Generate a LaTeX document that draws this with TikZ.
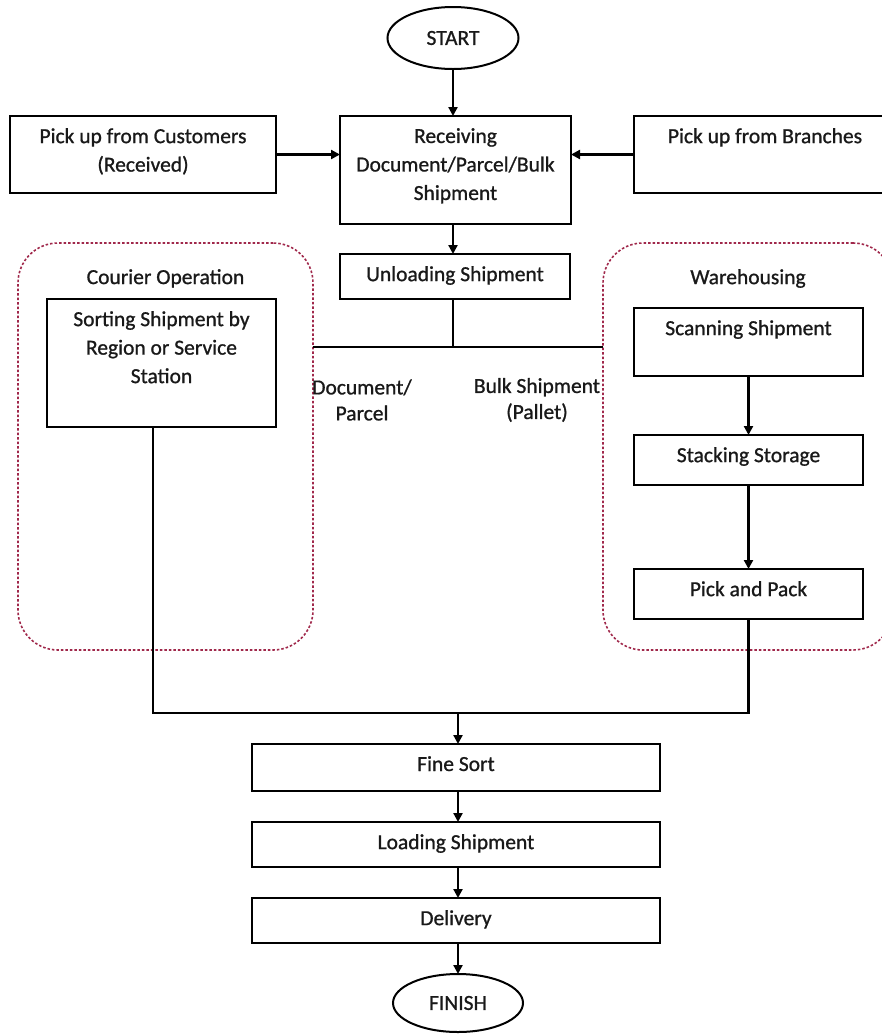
\documentclass[tikz,border=0pt]{standalone}
\usepackage{fontspec}
\setmainfont{Carlito}
\newfontfamily\diagfont{Carlito}[FakeBold=0.9]
\usetikzlibrary{arrows.meta,shapes.geometric}
\definecolor{grpred}{RGB}{160,40,75}
\tikzset{
  txt/.style={font=\diagfont\fontsize{21.5}{28.5}\selectfont, align=center, text=black!90},
  box/.style={draw, line width=2.2pt, inner sep=0pt, outer sep=0pt},
  toptext/.style={txt, anchor=north, inner sep=0pt, yshift=-12pt},
  oval/.style={ellipse, draw, line width=2pt, inner sep=0pt, outer sep=0pt, txt},
  grp/.style={draw=grpred, line width=1.6pt, dash pattern=on 2.5pt off 2pt, rounded corners=40pt, inner sep=0pt, outer sep=0pt},
  grptitle/.style={txt, anchor=north, inner sep=0pt, yshift=-26pt},
  arr/.style={line width=2.2pt, -{Triangle[length=9pt,width=9pt]}},
  conn/.style={line width=2.2pt},
  edgelbl/.style={txt, font=\diagfont\fontsize{21.5}{26}\selectfont},
}
\begin{document}
\begin{tikzpicture}[x=1pt,y=-1pt]
\useasboundingbox (0,0) rectangle (882,1034);
\clip (0,0) rectangle (882,1034);
\fill[white] (0,0) rectangle (882,1034);

% groups
\node[grp, minimum width=295pt, minimum height=407pt,
      label={[grptitle]north:Courier Operation}] (cgrp) at (165.5,446.5) {};
\node[grp, minimum width=290pt, minimum height=407pt,
      label={[grptitle]north:Warehousing}] (wgrp) at (748,446.5) {};

% top
\node[oval, minimum width=131pt, minimum height=62pt] (start) at (453,38) {START};
\node[box, minimum width=266pt, minimum height=77pt,
      label={[toptext]north:{Pick up from Customers\\(Received)}}] (cust) at (143,154.5) {};
\node[box, minimum width=231pt, minimum height=108pt,
      label={[toptext]north:{Receiving\\Document/Parcel/Bulk\\Shipment}}] (recv) at (455.5,170) {};
\node[box, minimum width=262pt, minimum height=77pt,
      label={[toptext]north:{Pick up from Branches}}] (branch) at (765,154.5) {};
\node[box, minimum width=230pt, minimum height=45pt,
      label={[toptext]north:{Unloading Shipment}}] (unload) at (455,276.5) {};

% courier
\node[box, minimum width=229pt, minimum height=128pt,
      label={[toptext]north:{Sorting Shipment by\\Region or Service\\Station}}] (sort) at (161.5,363) {};

% warehouse
\node[box, minimum width=229pt, minimum height=68pt,
      label={[toptext]north:{Scanning Shipment}}] (scan) at (748.5,342) {};
\node[box, minimum width=229pt, minimum height=50pt,
      label={[toptext]north:{Stacking Storage}}] (stack) at (748.5,460) {};
\node[box, minimum width=229pt, minimum height=50pt,
      label={[toptext]north:{Pick and Pack}}] (pick) at (748.5,594) {};

% bottom
\node[box, minimum width=408pt, minimum height=47pt,
      label={[toptext]north:{Fine Sort}}] (fine) at (456,767.5) {};
\node[box, minimum width=408pt, minimum height=45pt,
      label={[toptext]north:{Loading Shipment}}] (load) at (456,844.5) {};
\node[box, minimum width=408pt, minimum height=45pt,
      label={[toptext]north:{Delivery}}] (deliv) at (456,920.5) {};
\node[oval, minimum width=130pt, minimum height=58pt] (finish) at (458,1003) {FINISH};

% labels
\node[edgelbl] (doclbl) at (362,400) {Document/\\Parcel};
\node[edgelbl] (bulklbl) at (537,400) {Bulk Shipment\\(Pallet)};

% coordinates
\coordinate (split) at (453,347);
\coordinate (merge) at (458,713);

% connectors
\draw[arr] (start) -- (start |- recv.north);
\draw[arr] (cust.east) -- (cust.east -| recv.west);
\draw[arr] (branch.west |- cust.east) -- (recv.east |- cust.east);
\draw[arr] (recv.south -| start) -- (unload.north -| start);
\draw[conn] (unload.south -| split) -- (split);
\draw[conn] (cgrp.east |- split) -- (wgrp.west |- split);
\draw[arr] (scan) -- (stack);
\draw[arr] (stack) -- (pick);
\draw[conn] ([xshift=-8.5pt]sort.south) |- (merge);
\draw[conn] (pick.south) |- (merge);
\draw[arr] (merge) -- (merge |- fine.north);
\draw[arr] (fine.south -| merge) -- (load.north -| merge);
\draw[arr] (load.south -| merge) -- (deliv.north -| merge);
\draw[arr] (deliv.south -| merge) -- (finish);
\end{tikzpicture}
\end{document}
